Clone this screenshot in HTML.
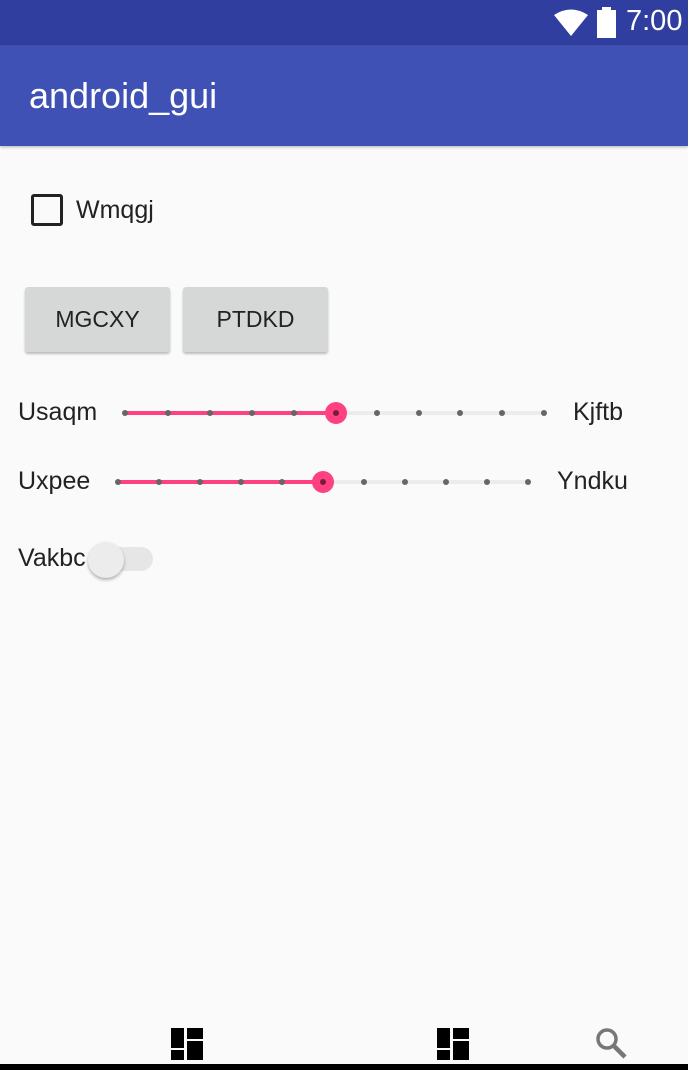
<!DOCTYPE html>
<html><head><meta charset="utf-8"><style>
body{margin:0;width:688px;height:1070px;background:#fafafa;position:relative;overflow:hidden;font-family:"Liberation Sans",sans-serif;}
.a{position:absolute;}
.t{font-size:25px;color:#222;}
.dot{position:absolute;width:6px;height:6px;border-radius:3px;background:#666;}
</style></head><body>
<div class="a" style="left:0;top:0;width:688px;height:45px;background:#303f9f"></div>
<svg class="a" style="left:554px;top:8px" width="36" height="30"><path d="M0 7 Q17 -4 34 7 L17 28 Z" fill="#fff"/></svg>
<div class="a" style="left:597px;top:10px;width:19px;height:28px;background:#fff"></div>
<div class="a" style="left:602px;top:7px;width:9px;height:4px;background:#fff"></div>
<div class="a" style="left:626px;top:5px;color:#fff;font-size:29px">7:00</div>
<div class="a" style="left:0;top:45px;width:688px;height:101px;background:#3f51b5;box-shadow:0 1px 3px rgba(0,0,0,.3)"></div>
<div class="a" style="left:29px;top:75px;color:#fff;font-size:36px">android_gui</div>
<div class="a" style="left:31px;top:194px;width:32px;height:32px;border:3px solid #222;border-radius:3px;box-sizing:border-box;"></div>
<div class="a t" style="left:76px;top:196px">Wmqgj</div>
<div class="a" style="left:25px;top:287px;width:145px;height:65px;background:#d6d7d7;border-radius:3px;box-shadow:0 2px 2px rgba(0,0,0,.25);text-align:center;line-height:65px;font-size:23px;color:#222">MGCXY</div>
<div class="a" style="left:183px;top:287px;width:145px;height:65px;background:#d6d7d7;border-radius:3px;box-shadow:0 2px 2px rgba(0,0,0,.25);text-align:center;line-height:65px;font-size:23px;color:#222">PTDKD</div>
<div class="a t" style="left:18px;top:398px">Usaqm</div>
<div class="a t" style="left:573px;top:398px">Kjftb</div>
<div class="a" style="left:125px;top:411px;width:419px;height:4px;background:#ececec"></div>
<div class="a" style="left:125px;top:411px;width:211px;height:4px;background:#ff4081"></div>
<div class="dot" style="left:122px;top:410px"></div><div class="dot" style="left:165px;top:410px"></div><div class="dot" style="left:207px;top:410px"></div><div class="dot" style="left:249px;top:410px"></div><div class="dot" style="left:291px;top:410px"></div><div class="dot" style="left:374px;top:410px"></div><div class="dot" style="left:416px;top:410px"></div><div class="dot" style="left:457px;top:410px"></div><div class="dot" style="left:499px;top:410px"></div><div class="dot" style="left:541px;top:410px"></div>
<div class="a" style="left:325px;top:402px;width:22px;height:22px;border-radius:11px;background:#ff4081"></div><div class="dot" style="left:333px;top:410px;background:#7a1a3c"></div>
<div class="a t" style="left:18px;top:467px">Uxpee</div>
<div class="a t" style="left:557px;top:467px">Yndku</div>
<div class="a" style="left:118px;top:480px;width:410px;height:4px;background:#ececec"></div>
<div class="a" style="left:118px;top:480px;width:205px;height:4px;background:#ff4081"></div>
<div class="dot" style="left:115px;top:479px"></div><div class="dot" style="left:156px;top:479px"></div><div class="dot" style="left:197px;top:479px"></div><div class="dot" style="left:238px;top:479px"></div><div class="dot" style="left:279px;top:479px"></div><div class="dot" style="left:361px;top:479px"></div><div class="dot" style="left:402px;top:479px"></div><div class="dot" style="left:443px;top:479px"></div><div class="dot" style="left:484px;top:479px"></div><div class="dot" style="left:525px;top:479px"></div>
<div class="a" style="left:312px;top:471px;width:22px;height:22px;border-radius:11px;background:#ff4081"></div><div class="dot" style="left:320px;top:479px;background:#7a1a3c"></div>
<div class="a t" style="left:18px;top:544px">Vakbc</div>
<div class="a" style="left:95px;top:547px;width:58px;height:24px;border-radius:12px;background:#e6e6e6"></div>
<div class="a" style="left:88px;top:542px;width:36px;height:36px;border-radius:18px;background:#ececec;box-shadow:0 2px 3px rgba(0,0,0,.3)"></div>
<div class="a" style="left:171px;top:1028px;width:13px;height:20px;background:#000"></div><div class="a" style="left:187px;top:1028px;width:16px;height:11px;background:#000"></div><div class="a" style="left:171px;top:1050px;width:13px;height:10px;background:#000"></div><div class="a" style="left:187px;top:1041px;width:16px;height:19px;background:#000"></div>
<div class="a" style="left:437px;top:1028px;width:13px;height:20px;background:#000"></div><div class="a" style="left:453px;top:1028px;width:16px;height:11px;background:#000"></div><div class="a" style="left:437px;top:1050px;width:13px;height:10px;background:#000"></div><div class="a" style="left:453px;top:1041px;width:16px;height:19px;background:#000"></div>
<svg class="a" style="left:594px;top:1026px" width="36" height="36"><circle cx="13" cy="13" r="9" fill="none" stroke="#777" stroke-width="3.5"/><line x1="19" y1="19" x2="31" y2="31" stroke="#777" stroke-width="4.5"/></svg>
<div class="a" style="left:0;top:1064px;width:688px;height:6px;background:#000"></div>
</body></html>
